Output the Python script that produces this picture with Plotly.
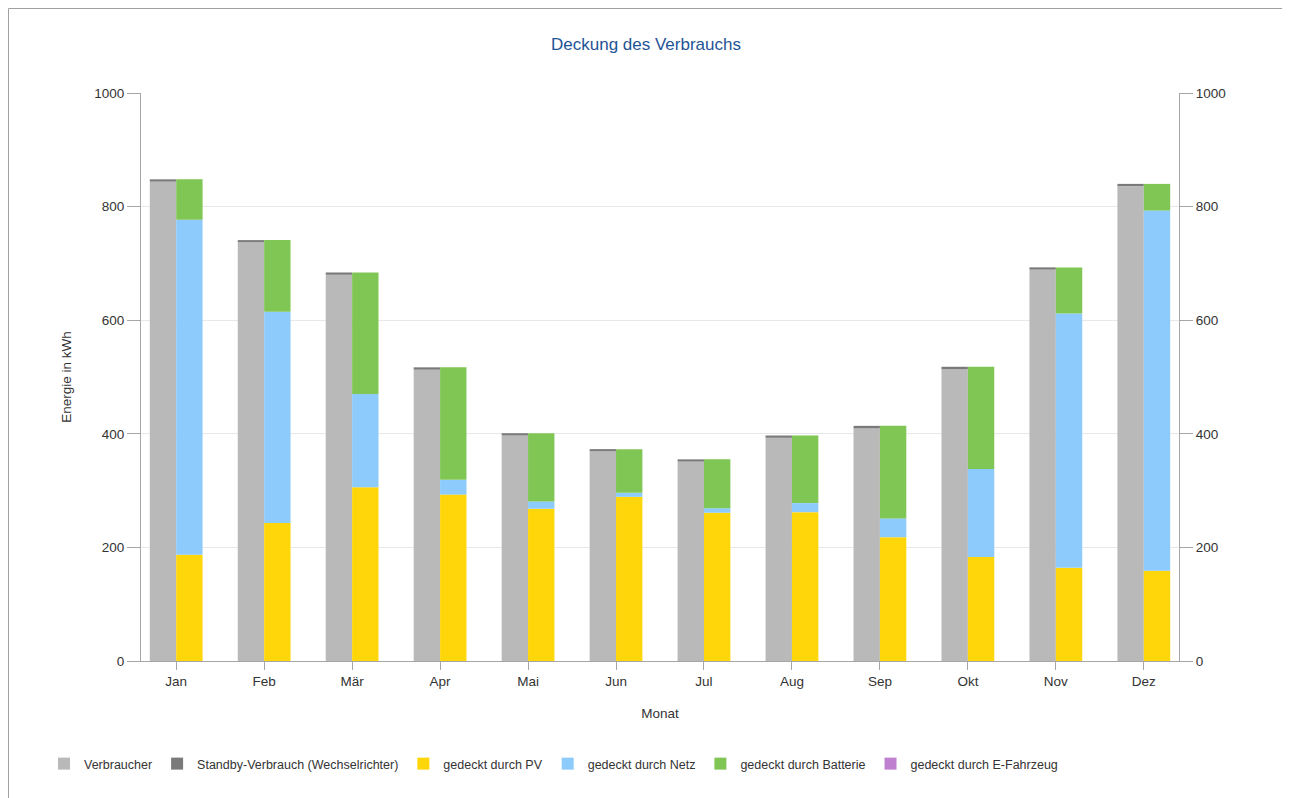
import numpy as np
import plotly.graph_objects as go

months = ["Jan", "Feb", "Mär", "Apr", "Mai", "Jun", "Jul", "Aug", "Sep", "Okt", "Nov", "Dez"]
verbraucher = [844, 737, 680, 513, 397, 369, 351, 393, 410, 514, 689, 836]
standby = [4, 4, 4, 4, 4, 4, 4, 4, 4, 4, 4, 4]
pv = [187, 243, 306, 293, 268, 289, 261, 262, 218, 183, 164, 159]
netz = [590, 372, 164, 26, 13, 7, 8, 16, 33, 155, 448, 634]
batterie = [71, 126, 214, 198, 120, 77, 86, 119, 163, 180, 81, 47]
efahrzeug = [0, 0, 0, 0, 0, 0, 0, 0, 0, 0, 0, 0]
y_ticks = [0, 200, 400, 600, 800, 1000]

FONT = "Liberation Sans"
W, H = 1276, 790
ML, MR, MT, MB = 133, 105, 85, 137
PW, PH = W - ML - MR, H - MT - MB

v = np.array(verbraucher)
p = np.array(pv)
n = np.array(netz)
b = np.array(batterie)

fig = go.Figure()
fig.add_trace(go.Bar(name="Verbraucher", x=months, y=verbraucher, offsetgroup="a",
                     marker=dict(color="#b9b9b9", line=dict(width=0))))
fig.add_trace(go.Bar(name="Standby-Verbrauch (Wechselrichter)", x=months, y=standby, base=v,
                     offsetgroup="a", marker=dict(color="#7a7a7a", line=dict(width=0))))
fig.add_trace(go.Bar(name="gedeckt durch PV", x=months, y=pv, offsetgroup="b",
                     marker=dict(color="#ffd60a", line=dict(width=0))))
fig.add_trace(go.Bar(name="gedeckt durch Netz", x=months, y=netz, base=p, offsetgroup="b",
                     marker=dict(color="#8ccbfc", line=dict(width=0))))
fig.add_trace(go.Bar(name="gedeckt durch Batterie", x=months, y=batterie, base=p + n, offsetgroup="b",
                     marker=dict(color="#80c655", line=dict(width=0))))
fig.add_trace(go.Bar(name="gedeckt durch E-Fahrzeug", x=months, y=efahrzeug, base=p + n + b,
                     offsetgroup="b", marker=dict(color="#c080d0", line=dict(width=0))))

axis_col = "#a6a6a6"
txt_col = "#333333"
fig.update_layout(
    width=W, height=H,
    margin=dict(l=ML, r=MR, t=MT, b=MB, autoexpand=False),
    paper_bgcolor="white", plot_bgcolor="white",
    barmode="group", bargap=0.4, bargroupgap=0,
    font=dict(family=FONT, size=13.5, color=txt_col),
    title=dict(text="Deckung des Verbrauchs", x=0.5, xref="container", xanchor="center",
               y=1 - 36 / H, yref="container", yanchor="middle",
               font=dict(family=FONT, size=17, color="#1f5496")),
    xaxis=dict(type="category", range=[-0.4, 11.4], showline=True, linecolor=axis_col, linewidth=1,
               ticks="outside", ticklen=8, tickcolor=axis_col, showgrid=False,
               tickfont=dict(size=13.5, color=txt_col),
               title=dict(text="Monat", standoff=20, font=dict(size=13.5, color=txt_col))),
    yaxis=dict(range=[0, 1000], tickvals=y_ticks, showline=True, linecolor=axis_col, linewidth=1,
               ticks="outside", ticklen=13, tickcolor=axis_col, showgrid=True, gridcolor="#e8e8e8",
               zeroline=False, tickfont=dict(size=13.5, color=txt_col),
               title=dict(text="Energie in kWh", standoff=19, font=dict(size=13.5, color=txt_col))),
    yaxis2=dict(range=[0, 1000], tickvals=y_ticks, overlaying="y", side="right", anchor="x",
                showline=True, linecolor=axis_col, linewidth=1, ticks="outside", ticklen=13,
                tickcolor=axis_col, showgrid=False, zeroline=False,
                tickfont=dict(size=13.5, color=txt_col)),
    legend=dict(orientation="h", x=36 / W, xref="container", xanchor="left",
                y=1 - 756 / H, yref="container", yanchor="middle",
                font=dict(family=FONT, size=12.5, color=txt_col), itemclick=False,
                traceorder="normal"),
    shapes=[dict(type="rect", xref="paper", yref="paper",
                 x0=-(ML - 0.5) / PW, x1=1 + (MR - 1.5) / PW,
                 y0=-(MB + 5) / PH, y1=1 + (MT - 0.5) / PH,
                 line=dict(color="#a0a0a0", width=1), fillcolor="rgba(0,0,0,0)", layer="below")],
)
fig.add_trace(go.Scatter(x=months, y=verbraucher, yaxis="y2", mode="none", showlegend=False,
                         hoverinfo="skip"))

fig.write_html("out.html")
